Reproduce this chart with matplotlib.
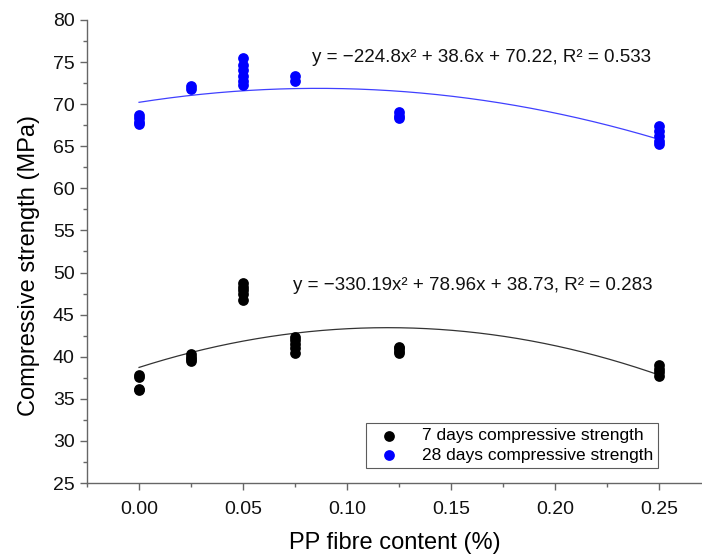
import numpy as np
import matplotlib.pyplot as plt
from matplotlib.ticker import MultipleLocator

plt.rcParams['font.family'] = ['Liberation Sans', 'DejaVu Sans']

# PP fibre content (%) and measured strengths (MPa)
x7 = [0.0, 0.0, 0.0, 0.0,
      0.025, 0.025, 0.025, 0.025,
      0.05, 0.05, 0.05, 0.05, 0.05,
      0.075, 0.075, 0.075, 0.075, 0.075,
      0.125, 0.125, 0.125, 0.125,
      0.25, 0.25, 0.25, 0.25]
y7 = [37.8, 37.6, 36.2, 36.0,
      40.3, 40.0, 39.7, 39.5,
      48.7, 48.3, 47.9, 47.5, 46.7,
      42.3, 42.0, 41.5, 41.0, 40.5,
      41.2, 41.0, 40.7, 40.5,
      39.0, 38.6, 38.2, 37.7]

x28 = [0.0, 0.0, 0.0, 0.0,
       0.025, 0.025,
       0.05, 0.05, 0.05, 0.05, 0.05, 0.05,
       0.075, 0.075,
       0.125, 0.125, 0.125,
       0.25, 0.25, 0.25, 0.25, 0.25]
y28 = [68.7, 68.3, 67.9, 67.6,
       72.1, 71.8,
       75.5, 74.6, 74.0, 73.4, 72.8, 72.3,
       73.3, 72.8,
       69.1, 68.6, 68.3,
       67.4, 66.8, 66.2, 65.6, 65.3]

# quadratic fits as reported on the chart (a, b, c, R2)
fit7 = [-330.19, 78.96, 38.73]
r2_7 = 0.283
fit28 = [-224.8, 38.6, 70.22]
r2_28 = 0.533

fig = plt.figure(figsize=(7.02, 5.58), dpi=100)
ax = fig.add_axes([0.124, 0.1344, 0.876, 0.8298])

xf = np.linspace(0, 0.25, 200)
ax.plot(xf, np.polyval(fit7, xf), color='#333333', lw=0.9, zorder=2)
ax.plot(xf, np.polyval(fit28, xf), color='#4040ff', lw=0.9, zorder=2)

ax.scatter(x7, y7, s=60, color='black', lw=0, zorder=3, label='7 days compressive strength')
ax.scatter(x28, y28, s=60, color='#0000ff', lw=0, zorder=3, label='28 days compressive strength')

def eq_text(f, r2):
    return 'y = \u2212%gx\u00b2 + %gx + %.2f, R\u00b2 = %.3f' % (-f[0], f[1], f[2], r2)

ax.text(0.0832, 75.6, eq_text(fit28, r2_28), fontsize=13.5, va='center', ha='left', color='#111111')
ax.text(0.0740, 48.5, eq_text(fit7, r2_7), fontsize=13.5, va='center', ha='left', color='#111111')

ax.set_xlim(-0.025, 0.2707)
ax.set_ylim(25, 80)
ax.xaxis.set_major_locator(MultipleLocator(0.05))
ax.xaxis.set_minor_locator(MultipleLocator(0.025))
ax.yaxis.set_major_locator(MultipleLocator(5))
ax.yaxis.set_minor_locator(MultipleLocator(2.5))
ax.xaxis.set_major_formatter(plt.FormatStrFormatter('%.2f'))

for s in ['top', 'right']:
    ax.spines[s].set_visible(False)
for s in ['left', 'bottom']:
    ax.spines[s].set_color('#666666')
    ax.spines[s].set_linewidth(1.0)
ax.tick_params(which='major', direction='out', length=5, width=1, color='#666666',
               labelsize=14, labelcolor='#111111', pad=4)
ax.tick_params(which='minor', direction='out', length=3, width=1, color='#666666')
ax.tick_params(axis='x', pad=8)

ax.set_xlabel('PP fibre content (%)', fontsize=17, labelpad=10)
ax.set_ylabel('Compressive strength (MPa)', fontsize=17)
ax.yaxis.set_label_coords(-0.076, 0.469)

leg = ax.legend(loc='lower right', bbox_to_anchor=(0.9285, 0.0324), borderaxespad=0,
                fancybox=False, fontsize=12.5, frameon=True, handletextpad=0.9,
                borderpad=0.3, labelspacing=0.25, handlelength=2.0)
leg.get_frame().set_edgecolor('#333333')
leg.get_frame().set_linewidth(0.8)

fig.savefig('out.png', dpi=100)
